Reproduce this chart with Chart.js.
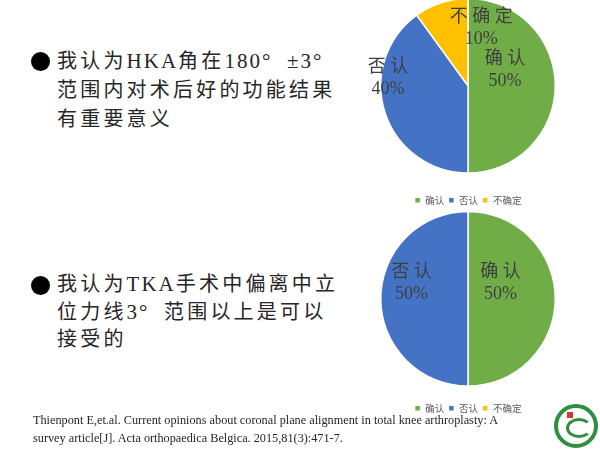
<!DOCTYPE html>
<html>
<head>
<meta charset="utf-8">
<script src="https://cdn.jsdelivr.net/npm/chart.js@4.4.0/dist/chart.umd.min.js"></script>
<style>
  body { margin: 0; width: 600px; height: 450px; background: #fff; position: relative; overflow: hidden; }
  .txt { position: absolute; left: 57px; font-family: "Liberation Serif", "Noto Sans CJK SC", serif; font-size: 20px; letter-spacing: 3.2px; color: #262626; white-space: nowrap; }
  .txt .l { font-size: 21px; letter-spacing: 2px; }
  .dot { position: absolute; left: 31px; width: 19px; height: 19px; border-radius: 50%; background: #000; }
  .box { position: absolute; }
  .ref { position: absolute; left: 33px; top: 411px; font-family: "Liberation Serif", serif; font-size: 12.25px; line-height: 18px; color: #262626; }
  .logo { position: absolute; left: 554px; top: 404px; width: 36px; height: 36px; border: 4px solid #2f8f3f; border-radius: 50%; background: #fff; }
  .logo .in { position: absolute; left: 8px; top: 10px; width: 20px; height: 14px; border: 3px solid #2f8f3f; border-radius: 50%; border-right-color: transparent; }
  .logo .cr { position: absolute; left: 9px; top: 4px; width: 6px; height: 6px; background: #d33; }
</style>
</head>
<body>
<div class="dot" style="top:52px"></div>
<div class="txt" style="top:47px; line-height:29px">我认为<span class="l">HKA</span>角在<span class="l">180°&nbsp;&nbsp;±3°</span><br>范围内对术后好的功能结果<br>有重要意义</div>
<div class="dot" style="top:276px"></div>
<div class="txt" style="top:271px; line-height:27.5px">我认为<span class="l">TKA</span>手术中偏离中立<br>位力线<span class="l">3°&nbsp;&nbsp;</span>范围以上是可以<br>接受的</div>

<div class="box" style="left:340px; top:-20px; width:256px; height:235px"><canvas id="pie1"></canvas></div>
<div class="box" style="left:340px; top:198px; width:256px; height:225px"><canvas id="pie2"></canvas></div>

<div class="ref">Thienpont E,et.al. Current opinions about coronal plane alignment in total knee arthroplasty: A<br>survey article[J]. Acta orthopaedica Belgica. 2015,81(3):471-7.</div>
<div class="logo"><div class="in"></div><div class="cr"></div></div>

<script>
const categories = ["确认", "否认", "不确定"];
const hkaValues = [50, 40, 10];
const tkaValues = [50, 50, 0];
const sliceColors = ["#70AD47", "#4472C4", "#FFC000"];

// where each slice label sits: fraction of radius, turn (deg) from mid angle
const hkaPlace = [{ r: 0.46, turn: -23 }, { r: 0.92, turn: 23 }, { r: 0.68, turn: 31 }];
const tkaPlace = [{ r: 0.41, turn: -25 }, { r: 0.67, turn: 15 }, { r: 0.7, turn: 0 }];

const sliceLabels = {
  id: "sliceLabels",
  afterDatasetsDraw(chart, args, opts) {
    const ctx = chart.ctx;
    const meta = chart.getDatasetMeta(0);
    const data = chart.data.datasets[0].data;
    const total = data.reduce((a, b) => a + b, 0);
    meta.data.forEach((arc, i) => {
      if (!data[i]) return;
      const p = opts.place[i];
      const mid = (arc.startAngle + arc.endAngle) / 2 + p.turn * Math.PI / 180;
      const x = arc.x + Math.cos(mid) * arc.outerRadius * p.r;
      const y = arc.y + Math.sin(mid) * arc.outerRadius * p.r;
      ctx.save();
      ctx.fillStyle = "#404040";
      ctx.font = '18px "Liberation Serif", "Noto Sans CJK SC", serif';
      ctx.textAlign = "center";
      ctx.textBaseline = "middle";
      ctx.fillText(chart.data.labels[i].split("").join(" "), x, y - 11);
      ctx.fillText(Math.round(data[i] / total * 100) + "%", x, y + 11);
      ctx.restore();
    });
  }
};

function drawPie(id, values, place) {
  new Chart(document.getElementById(id), {
    type: "pie",
    data: {
      labels: categories,
      datasets: [{
        data: values,
        backgroundColor: sliceColors,
        borderColor: "#fff",
        borderWidth: 1.5,
        hoverOffset: 0
      }]
    },
    options: {
      responsive: true,
      maintainAspectRatio: false,
      animation: false,
      layout: { padding: { left: 40, right: 40 } },
      plugins: {
        legend: {
          position: "bottom",
          labels: {
            boxWidth: 6, boxHeight: 6, padding: 4,
            color: "#595959",
            font: { size: 9.5, family: '"Noto Sans CJK SC", sans-serif' }
          }
        },
        tooltip: { enabled: false },
        sliceLabels: { place: place }
      }
    },
    plugins: [sliceLabels]
  });
}

drawPie("pie1", hkaValues, hkaPlace);
drawPie("pie2", tkaValues, tkaPlace);
</script>
</body>
</html>
